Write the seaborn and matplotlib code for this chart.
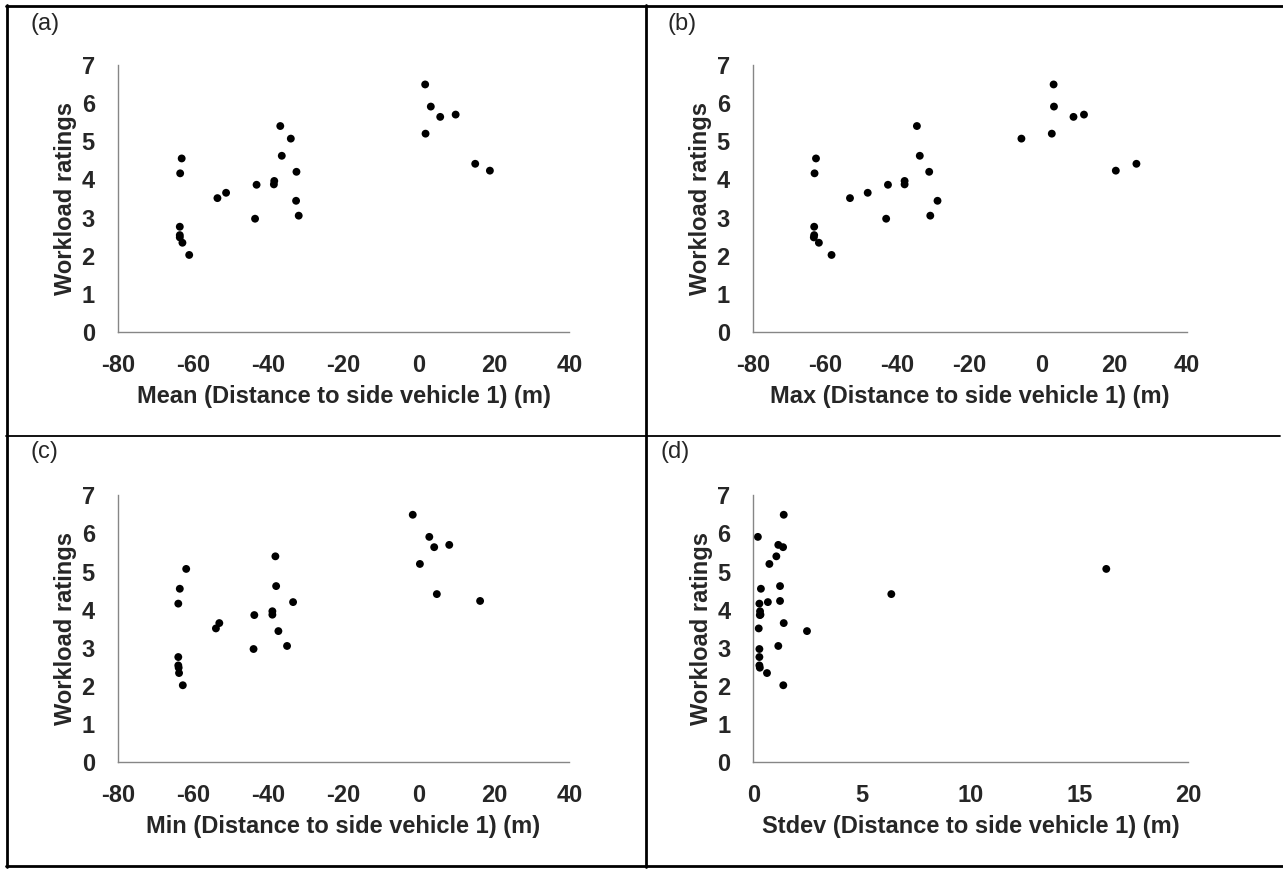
import matplotlib
matplotlib.use("Agg")
import matplotlib.pyplot as plt
from matplotlib.lines import Line2D
import seaborn as sns
import pandas as pd

# workload rating per participant and distance stats (m)
workload = [6.49, 5.91, 5.70, 5.64, 5.40, 5.20, 5.07, 4.62, 4.55, 4.41, 4.23, 4.20, 4.16,
            3.96, 3.87, 3.86, 3.65, 3.51, 3.44, 3.05, 2.97, 2.76, 2.54, 2.48, 2.34, 2.02]
mean_dist = [1.7, 3.2, 9.8, 5.7, -36.8, 1.8, -34.0, -36.4, -63.0, 15.0, 18.9, -32.5, -63.4,
             -38.4, -38.5, -43.1, -51.2, -53.5, -32.6, -31.9, -43.5, -63.5, -63.5, -63.5, -62.8, -61.0]
max_dist = [3.2, 3.3, 11.6, 8.7, -34.6, 2.7, -5.7, -33.8, -62.5, 26.1, 20.4, -31.2, -62.9,
            -38.0, -38.0, -42.6, -48.2, -53.1, -28.9, -30.9, -43.1, -63.0, -63.0, -63.1, -61.7, -58.2]
min_dist = [-1.6, 2.8, 8.1, 4.1, -38.1, 0.3, -61.8, -37.9, -63.5, 4.8, 16.3, -33.4, -63.9,
            -38.9, -38.9, -43.7, -53.0, -53.9, -37.3, -35.0, -43.9, -63.9, -63.9, -63.8, -63.7, -62.7]
std_dist = [1.40, 0.21, 1.15, 1.37, 1.06, 0.74, 16.24, 1.23, 0.35, 6.35, 1.23, 0.67, 0.28,
            0.31, 0.33, 0.30, 1.40, 0.25, 2.47, 1.15, 0.28, 0.28, 0.28, 0.30, 0.63, 1.38]

df = pd.DataFrame({"Workload": workload, "Mean": mean_dist, "Max": max_dist,
                   "Min": min_dist, "Stdev": std_dist})

sns.set_style("white")
plt.rcParams['font.family'] = ['Liberation Sans', 'DejaVu Sans']
plt.rcParams['axes.unicode_minus'] = False

W, H = 1283, 869
FS = 17
fig = plt.figure(figsize=(W / 100, H / 100), dpi=100)

# (column, label, left px, right px, bottom px, top px, xlim, xticks, tag pos)
panels = [
    ("Mean", "(a)", 117.7, 569.3, 332.0, 65.0, (-80, 40), range(-80, 41, 20), (31, 13)),
    ("Max", "(b)", 752.7, 1186.7, 332.0, 65.0, (-80, 40), range(-80, 41, 20), (667, 13)),
    ("Min", "(c)", 117.7, 569.3, 762.3, 495.3, (-80, 40), range(-80, 41, 20), (31, 441)),
    ("Stdev", "(d)", 753.3, 1188.0, 762.3, 495.3, (0, 20), range(0, 21, 5), (661, 441)),
]

grey = "#868686"
for col, tag, l, r, b, t, xlim, xticks, tagpos in panels:
    ax = fig.add_axes([l / W, 1 - b / H, (r - l) / W, (b - t) / H])
    sns.scatterplot(data=df, x=col, y="Workload", ax=ax, color="black",
                    s=32, edgecolor="none", linewidth=0)
    ax.set_xlim(*xlim)
    ax.set_ylim(0, 7)
    ax.set_xticks(list(xticks))
    ax.set_yticks(range(0, 8))
    for s in ["top", "right"]:
        ax.spines[s].set_visible(False)
    for s in ["left", "bottom"]:
        ax.spines[s].set_color(grey)
        ax.spines[s].set_linewidth(1)
    ax.tick_params(axis="both", direction="out", length=5.5, width=1, color=grey,
                   labelsize=FS)
    ax.tick_params(axis="x", pad=10)
    ax.tick_params(axis="y", pad=11)
    for lab in ax.get_xticklabels() + ax.get_yticklabels():
        lab.set_fontweight("bold")
    ax.set_xlabel(f"{col} (Distance to side vehicle 1) (m)", fontsize=FS,
                  fontweight="bold", labelpad=6)
    ax.set_ylabel("Workload ratings", fontsize=FS, fontweight="bold", labelpad=3)
    fig.text(tagpos[0] / W, 1 - tagpos[1] / H, tag, fontsize=FS, ha="left", va="top")

# panel borders
def hline(y, x0, x1, lw=2):
    fig.add_artist(Line2D([x0 / W, x1 / W], [1 - y / H, 1 - y / H], color="black", lw=lw))

def vline(x, y0, y1, lw=2):
    fig.add_artist(Line2D([x / W, x / W], [1 - y0 / H, 1 - y1 / H], color="black", lw=lw))

hline(6, 6, 1283)
hline(866, 6, 1283)
hline(436, 6, 1280, lw=1.3)
vline(7, 5, 867)
vline(645.7, 5, 867)

fig.savefig("out.png", dpi=100)
